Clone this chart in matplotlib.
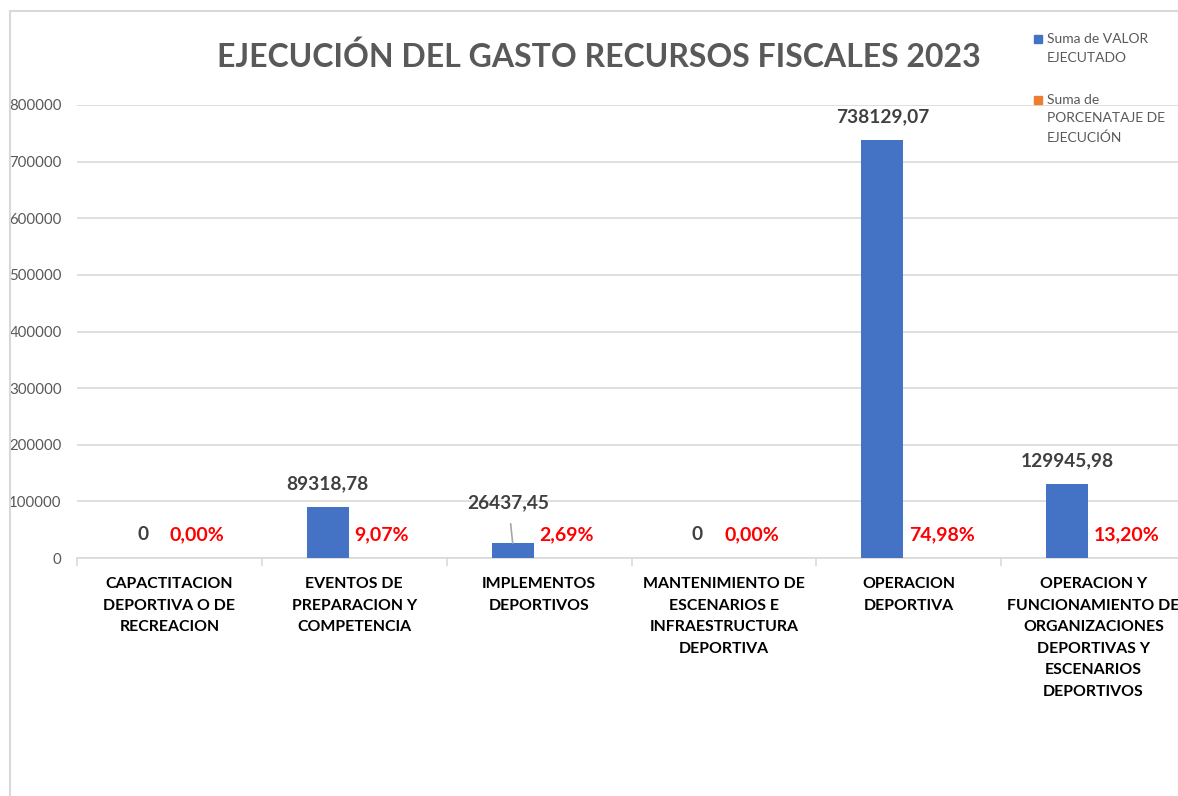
import matplotlib.pyplot as plt
from matplotlib.patches import Rectangle
import numpy as np

plt.rcParams['font.family'] = ['Lato', 'DejaVu Sans']

categorias = ['CAPACTITACION\nDEPORTIVA O DE\nRECREACION',
              'EVENTOS DE\nPREPARACION Y\nCOMPETENCIA',
              'IMPLEMENTOS\nDEPORTIVOS',
              'MANTENIMIENTO DE\nESCENARIOS E\nINFRAESTRUCTURA\nDEPORTIVA',
              'OPERACION\nDEPORTIVA',
              'OPERACION Y\nFUNCIONAMIENTO DE\nORGANIZACIONES\nDEPORTIVAS Y\nESCENARIOS\nDEPORTIVOS']
valor_ejecutado = [0, 89318.78, 26437.45, 0, 738129.07, 129945.98]
porcentaje = [0.0, 0.0907, 0.0269, 0.0, 0.7498, 0.1320]
yticks = [0, 100000, 200000, 300000, 400000, 500000, 600000, 700000, 800000]

azul = '#4472C4'
naranja = '#ED7D31'
gris = '#595959'

fig = plt.figure(figsize=(11.78, 7.96), dpi=100)
ax = fig.add_axes([77/1178, 238/796, (1186-77)/1178, (558-105)/796])

x = np.arange(len(categorias))
w = 0.227
ax.bar(x - 0.143, valor_ejecutado, w, color=azul, zorder=3)
ax.bar(x + 0.084, porcentaje, w, color=naranja, zorder=3)

ax.set_xlim(-0.5, len(categorias) - 0.5)
ax.set_ylim(0, 800000)
ax.set_yticks(yticks)
ax.set_yticklabels([str(t) for t in yticks], color=gris, fontsize=10.8)
ax.tick_params(axis='y', length=0, pad=11)
ax.grid(axis='y', color='#d9d9d9', linewidth=1.2, zorder=0)

ax.set_xticks(x)
ax.set_xticklabels(categorias, fontsize=11.4, fontweight='bold', color='black',
                   linespacing=1.68, va='top')
ax.tick_params(axis='x', length=0, pad=14)
ax.set_xticks(np.arange(len(categorias) + 1) - 0.5, minor=True)
ax.tick_params(axis='x', which='minor', length=6, color='#d9d9d9', width=1.2)

for s in ['top', 'right', 'left']:
    ax.spines[s].set_visible(False)
ax.spines['bottom'].set_color('#d9d9d9')
ax.spines['bottom'].set_linewidth(1.2)

def fmt_valor(v):
    return '0' if v == 0 else f'{v:.2f}'.replace('.', ',')

for i, v in enumerate(valor_ejecutado):
    if i == 2:
        ax.annotate(fmt_valor(v), (x[i] - 0.143, v), xytext=(-3, 29),
                    textcoords='offset points', ha='center', va='center',
                    fontsize=13.8, fontweight='bold', color='#404040',
                    arrowprops=dict(arrowstyle='-', color='#a6a6a6', lw=1.2,
                                    shrinkA=7, shrinkB=0))
    else:
        ax.annotate(fmt_valor(v), (x[i] - 0.143, v), xytext=(0, 17),
                    textcoords='offset points', ha='center', va='center',
                    fontsize=13.8, fontweight='bold', color='#404040')

# etiquetas de porcentaje a la derecha de cada barra azul
for i, p in enumerate(porcentaje):
    ax.annotate(f'{p*100:.2f}%'.replace('.', ','), (x[i] - 0.143 + w / 2, p),
                xytext=(4, 17), textcoords='offset points', ha='left',
                va='center', fontsize=14, fontweight='bold', color='#FF0000')

fig.text(599/1178, 1 - 57/796, 'EJECUCIÓN DEL GASTO RECURSOS FISCALES 2023',
         ha='center', va='center', fontsize=23, fontweight='bold', color=gris)

# leyenda
leg = [('Suma de VALOR\nEJECUTADO', azul, 39), ('Suma de\nPORCENATAJE DE\nEJECUCIÓN', naranja, 100)]
for txt, c, yy in leg:
    fig.patches.append(Rectangle((1034/1178, 1 - (yy + 4)/796), 8/1178, 8/796,
                                 transform=fig.transFigure, color=c))
    fig.text(1047/1178, 1 - (yy - 6)/796, txt, ha='left', va='top',
             fontsize=10, color=gris, linespacing=1.65)

# borde del grafico
fig.patches.append(Rectangle((10/1178, -0.1), 1.2, 1 - 11/796 + 0.1,
                             transform=fig.transFigure, fill=False,
                             edgecolor='#d9d9d9', linewidth=1.5))

plt.savefig('out.png', dpi=100)
